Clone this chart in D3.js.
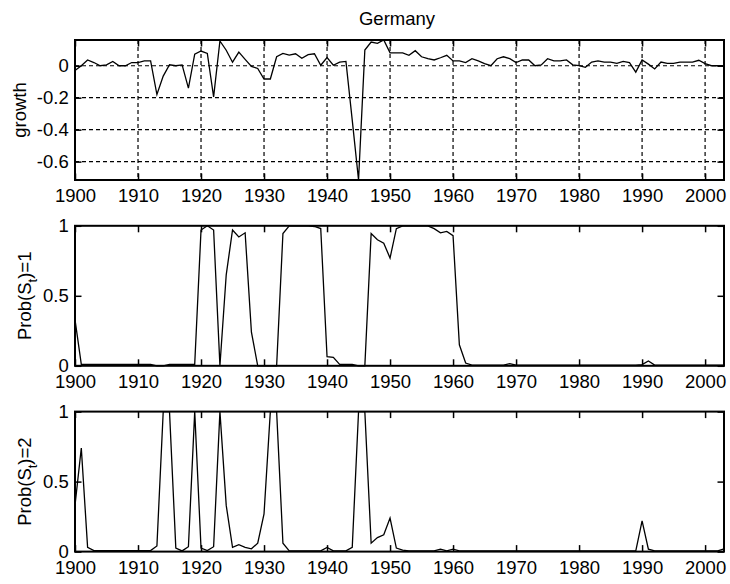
<!DOCTYPE html>
<html><head><meta charset="utf-8">
<script src="https://cdn.jsdelivr.net/npm/d3@7"></script>
<style>body{margin:0;background:#fff}svg{display:block}</style>
</head><body>
<svg id="c" width="730" height="584"></svg>
<script>
const startYear = 1900;
const endYear = 2003;
const growth = [
 -0.03, 0.0, 0.036, 0.02, 0.0, 0.005, 0.027, 0.0, 0.0, 0.02,
 0.02, 0.03, 0.03, -0.18, -0.065, 0.006, 0.0, 0.005, -0.14, 0.072,
 0.092, 0.077, -0.195, 0.155, 0.097, 0.022, 0.085, 0.04, -0.004, -0.017,
 -0.083, -0.083, 0.056, 0.077, 0.066, 0.075, 0.047, 0.069, 0.075, 0.003,
 0.051, 0.003, 0.023, 0.027, -0.34, -0.715, 0.098, 0.148, 0.14, 0.161,
 0.081, 0.081, 0.081, 0.065, 0.094, 0.056, 0.044, 0.036, 0.05, 0.065,
 0.03, 0.03, 0.02, 0.044, 0.03, 0.013, 0.0, 0.044, 0.056, 0.044,
 0.02, 0.036, 0.036, 0.0, 0.005, 0.044, 0.03, 0.03, 0.036, 0.006,
 0.0, -0.01, 0.023, 0.03, 0.023, 0.023, 0.015, 0.027, 0.02, -0.04,
 0.036, 0.01, -0.02, 0.023, 0.015, 0.015, 0.023, 0.023, 0.023, 0.034,
 0.013, 0.0, 0.0, 0.0
];
const probS1 = [
 0.33, 0.01, 0.01, 0.01, 0.01, 0.01, 0.01, 0.01, 0.01, 0.01,
 0.01, 0.01, 0.01, 0.0, 0.0, 0.01, 0.01, 0.01, 0.01, 0.01,
 0.97, 1.0, 0.97, 0.0, 0.65, 0.97, 0.92, 0.95, 0.24, 0.0,
 0.0, 0.0, 0.0, 0.945, 1.0, 1.0, 1.0, 1.0, 0.995, 0.98,
 0.065, 0.06, 0.01, 0.01, 0.01, 0.0, 0.0, 0.945, 0.9, 0.875,
 0.77, 0.98, 1.0, 1.0, 1.0, 1.0, 1.0, 0.98, 0.95, 0.96,
 0.93, 0.15, 0.02, 0.005, 0.005, 0.005, 0.005, 0.005, 0.005, 0.015,
 0.005, 0.005, 0.005, 0.005, 0.005, 0.005, 0.005, 0.005, 0.005, 0.005,
 0.005, 0.005, 0.005, 0.005, 0.005, 0.005, 0.005, 0.005, 0.005, 0.005,
 0.008, 0.035, 0.005, 0.005, 0.005, 0.005, 0.005, 0.005, 0.005, 0.005,
 0.005, 0.005, 0.005, 0.005
];
const probS2 = [
 0.33, 0.74, 0.03, 0.007, 0.007, 0.007, 0.007, 0.007, 0.007, 0.007,
 0.007, 0.007, 0.007, 0.04, 1.0, 1.0, 0.025, 0.005, 0.035, 1.0,
 0.025, 0.007, 0.035, 1.0, 0.33, 0.03, 0.05, 0.03, 0.02, 0.06,
 0.27, 1.0, 1.0, 0.06, 0.005, 0.005, 0.005, 0.005, 0.005, 0.005,
 0.03, 0.005, 0.005, 0.005, 0.03, 1.0, 1.0, 0.06, 0.1, 0.12,
 0.24, 0.025, 0.01, 0.005, 0.005, 0.005, 0.005, 0.005, 0.017, 0.005,
 0.017, 0.005, 0.005, 0.005, 0.005, 0.005, 0.005, 0.005, 0.005, 0.005,
 0.005, 0.005, 0.005, 0.005, 0.005, 0.005, 0.005, 0.005, 0.005, 0.005,
 0.005, 0.005, 0.005, 0.005, 0.005, 0.005, 0.005, 0.005, 0.005, 0.005,
 0.22, 0.017, 0.005, 0.005, 0.005, 0.005, 0.005, 0.005, 0.005, 0.005,
 0.005, 0.005, 0.005, 0.02
];
const xTicks = [1900, 1910, 1920, 1930, 1940, 1950, 1960, 1970, 1980, 1990, 2000];
const growthTicks = [0, -0.2, -0.4, -0.6];
const probTicks = [0, 0.5, 1];
const titleText = "Germany";

const years = growth.map((_, i) => startYear + i);

const FONT = "'Liberation Sans', Arial, Helvetica, sans-serif";
const FS = 18.5;
const svg = d3.select("#c");
const L = 75, R = 724, H = 140;
const x = d3.scaleLinear().domain([startYear, endYear]).range([L, R]);

svg.append("text").attr("x", 397).attr("y", 25)
  .attr("text-anchor", "middle").attr("font-family", FONT).attr("font-size", FS)
  .text(titleText);

function panel(top, values, yDomain, yTicks, grid, labelFn, labelX) {
  const y = d3.scaleLinear().domain(yDomain).range([top + H, top]);
  const g = svg.append("g");
  if (grid) {
    g.selectAll("line.gx").data(xTicks).join("line")
      .attr("x1", d => x(d)).attr("x2", d => x(d))
      .attr("y1", top).attr("y2", top + H)
      .attr("stroke", "#000").attr("stroke-width", 1.2).attr("stroke-dasharray", "4,3");
    g.selectAll("line.gy").data(yTicks).join("line")
      .attr("x1", L).attr("x2", R)
      .attr("y1", d => y(d)).attr("y2", d => y(d))
      .attr("stroke", "#000").attr("stroke-width", 1.2).attr("stroke-dasharray", "4,3");
  }
  const fmt = d => (d === 0 ? "0" : String(d));
  const styleAxis = sel => {
    sel.select(".domain").remove();
    sel.selectAll(".tick line").attr("stroke", "#000").attr("stroke-width", 1.5);
    sel.selectAll(".tick text").attr("font-family", FONT).attr("font-size", FS).attr("fill", "#000");
  };
  g.append("g").attr("transform", `translate(0,${top + H})`)
    .call(d3.axisBottom(x).tickValues(xTicks).tickFormat(d3.format("d")).tickSize(-6.5).tickPadding(9.2))
    .call(styleAxis);
  g.append("g").attr("transform", `translate(0,${top})`)
    .call(d3.axisTop(x).tickValues(xTicks).tickFormat("").tickSize(-6.5))
    .call(styleAxis);
  g.append("g").attr("transform", `translate(${L},0)`)
    .call(d3.axisLeft(y).tickValues(yTicks).tickFormat(fmt).tickSize(-6.5).tickPadding(6.3))
    .call(styleAxis);
  g.append("g").attr("transform", `translate(${R},0)`)
    .call(d3.axisRight(y).tickValues(yTicks).tickFormat("").tickSize(-6.5))
    .call(styleAxis);

  const line = d3.line().x((d, i) => x(years[i])).y(d => y(d));
  g.append("path").datum(values).attr("d", line)
    .attr("fill", "none").attr("stroke", "#000").attr("stroke-width", 1.3)
    .attr("stroke-linejoin", "miter");

  g.append("rect").attr("x", L).attr("y", top).attr("width", R - L).attr("height", H)
    .attr("fill", "none").attr("stroke", "#000").attr("stroke-width", 2);

  const t = svg.append("text")
    .attr("transform", `translate(${labelX},${top + H / 2}) rotate(-90)`)
    .attr("text-anchor", "middle").attr("font-family", FONT).attr("font-size", FS);
  labelFn(t);
}

panel(40, growth, d3.extent(growth), growthTicks, true,
  t => t.text("growth"), 26);
panel(225.8, probS1, [0, 1], probTicks, false, t => {
  t.append("tspan").text("Prob(S");
  t.append("tspan").attr("font-size", 13).attr("dy", 6).text("t");
  t.append("tspan").attr("dy", -6).text(")=1");
}, 31);
panel(411.6, probS2, [0, 1], probTicks, false, t => {
  t.append("tspan").text("Prob(S");
  t.append("tspan").attr("font-size", 13).attr("dy", 6).text("t");
  t.append("tspan").attr("dy", -6).text(")=2");
}, 31);
</script>
</body></html>
